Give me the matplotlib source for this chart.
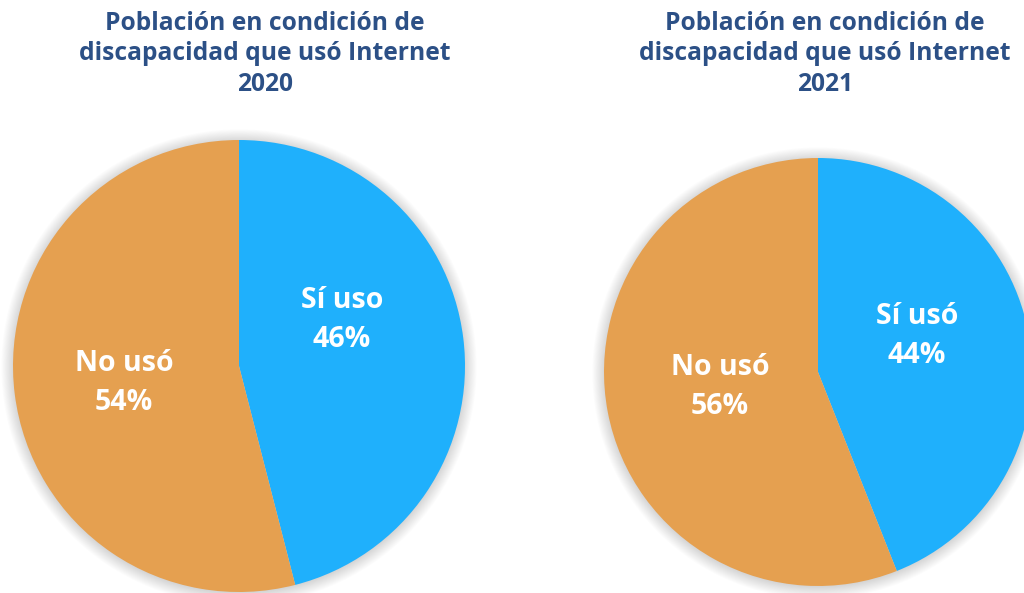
import matplotlib
matplotlib.use("Agg")
import matplotlib.pyplot as plt
from matplotlib.patches import Circle

W, H = 1024, 593

titles = ["Población en condición de\ndiscapacidad que usó Internet\n2020",
          "Población en condición de\ndiscapacidad que usó Internet\n2021"]
labels_2020 = ["Sí uso", "No usó"]
labels_2021 = ["Sí usó", "No usó"]
values_2020 = [46, 54]
values_2021 = [44, 56]

blue = "#1FB0FC"
orange = "#E5A050"
title_color = "#2C5086"
font = ["Open Sans", "DejaVu Sans"]

fig = plt.figure(figsize=(W / 100, H / 100), dpi=100)
ax = fig.add_axes([0, 0, 1, 1])

def py(y):
    return H - y

charts = [
    dict(vals=values_2020, labs=labels_2020, title=titles[0], c=(239, 366), r=226,
         title_x=265, lab_pos=[(342, 320), (124, 383)]),
    dict(vals=values_2021, labs=labels_2021, title=titles[1], c=(818, 372), r=214,
         title_x=825, lab_pos=[(917, 336), (720, 387)]),
]

for ch in charts:
    cx, cy = ch["c"]
    r = ch["r"]
    # soft shadow
    for i in range(14):
        ax.add_patch(Circle((cx, py(cy) - 1), r + i * 0.9, facecolor="black",
                            edgecolor="none", alpha=0.011, zorder=1))
    wedges, _ = ax.pie(ch["vals"], colors=[blue, orange], startangle=90,
                       counterclock=False, center=(cx, py(cy)), radius=r,
                       wedgeprops=dict(linewidth=0, zorder=2))
    for w in wedges:
        w.set_zorder(2)
    for lab, val, (lx, ly) in zip(ch["labs"], ch["vals"], ch["lab_pos"]):
        ax.text(lx, py(ly), f"{lab}\n{val}%", ha="center", va="center",
                color="white", fontsize=20.5, fontweight="bold", family=font,
                linespacing=1.45, zorder=3)
    ax.text(ch["title_x"], py(54), ch["title"], ha="center", va="center",
            color=title_color, fontsize=17.7, fontweight="bold", family=font,
            linespacing=1.27, zorder=3)

ax.set_xlim(0, W)
ax.set_ylim(0, H)
ax.set_aspect("auto")
ax.axis("off")
fig.savefig("out.png", dpi=100, facecolor="white")
